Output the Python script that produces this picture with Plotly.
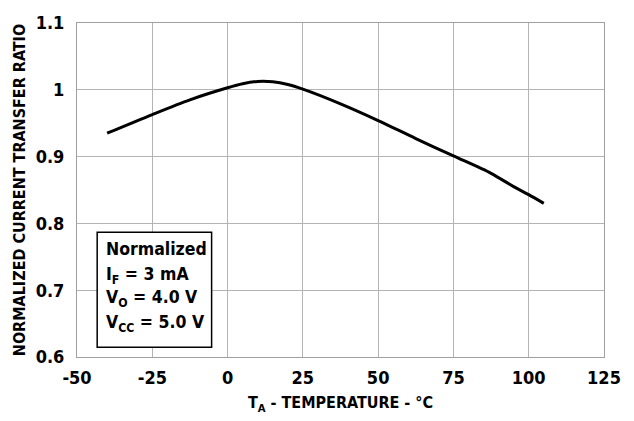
import plotly.graph_objects as go

temp_c = [-40, -25, -12.5, 0, 5, 10, 15, 20, 25, 37.5, 50, 62.5, 75, 87.5, 95, 100, 105]
ctr_norm = [0.935, 0.963, 0.985, 1.003, 1.009, 1.0125, 1.012, 1.008, 1.001, 0.979, 0.954,
            0.927, 0.901, 0.875, 0.855, 0.843, 0.830]

x_ticks = [-50, -25, 0, 25, 50, 75, 100, 125]
x_tick_text = ["-50", "-25", "0", "25", "50", "75", "100", "125"]
y_ticks = [0.6, 0.7, 0.8, 0.9, 1.0, 1.1]
y_tick_text = ["0.6", "0.7", "0.8", "0.9", "1", "1.1"]

note_lines = ["Normalized", "I<sub>F</sub> = 3 mA", "V<sub>O</sub> = 4.0 V", "V<sub>CC</sub> = 5.0 V"]
note_y = [0.7613, 0.7219, 0.6869, 0.6496]

FONT = "DejaVu Sans Condensed, Liberation Sans, sans-serif"

fig = go.Figure()
fig.add_trace(go.Scatter(x=temp_c, y=ctr_norm, mode="lines",
                         line=dict(color="black", width=3, shape="spline", smoothing=0.8),
                         showlegend=False, hoverinfo="skip"))

fig.update_layout(
    width=634, height=421,
    margin=dict(l=77, r=30, t=16, b=62),
    paper_bgcolor="white", plot_bgcolor="white",
    font=dict(family=FONT, color="black", size=18),
)
fig.update_xaxes(range=[-50, 125], tickvals=x_ticks,
                 ticktext=["<b>%s</b>" % t for t in x_tick_text], ticks="",
                 showgrid=True, gridcolor="#b4b4b4", gridwidth=1, showline=True,
                 linecolor="#a0a0a0", linewidth=1, mirror=True, zeroline=False,
                 tickfont=dict(size=18, family=FONT, color="black"),
                 ticklabelstandoff=4,
                 title=dict(text="<b>T<sub>A</sub> - TEMPERATURE - °C</b>", standoff=10,
                            font=dict(size=16, family=FONT, color="black")))
fig.update_yaxes(range=[0.6, 1.1], tickvals=y_ticks,
                 ticktext=["<b>%s</b>" % t for t in y_tick_text], ticks="",
                 showgrid=True, gridcolor="#b4b4b4", gridwidth=1, showline=True,
                 linecolor="#a0a0a0", linewidth=1, mirror=True, zeroline=False,
                 tickfont=dict(size=18, family=FONT, color="black"),
                 ticklabelstandoff=8,
                 title=dict(text="<b>NORMALIZED CURRENT TRANSFER RATIO</b>", standoff=6,
                            font=dict(size=16, family=FONT, color="black")))

fig.add_shape(type="rect", xref="x", yref="y", x0=-43.3, x1=-5.3, y0=0.6146, y1=0.7868,
              line=dict(color="black", width=1.5), fillcolor="white", layer="above")
for txt, yy in zip(note_lines, note_y):
    fig.add_annotation(xref="x", yref="y", x=-41.2, y=yy, xanchor="left", yanchor="middle",
                       align="left", showarrow=False, text="<b>%s</b>" % txt,
                       font=dict(size=17.5, family=FONT, color="black"))

fig.write_html("out.html")
